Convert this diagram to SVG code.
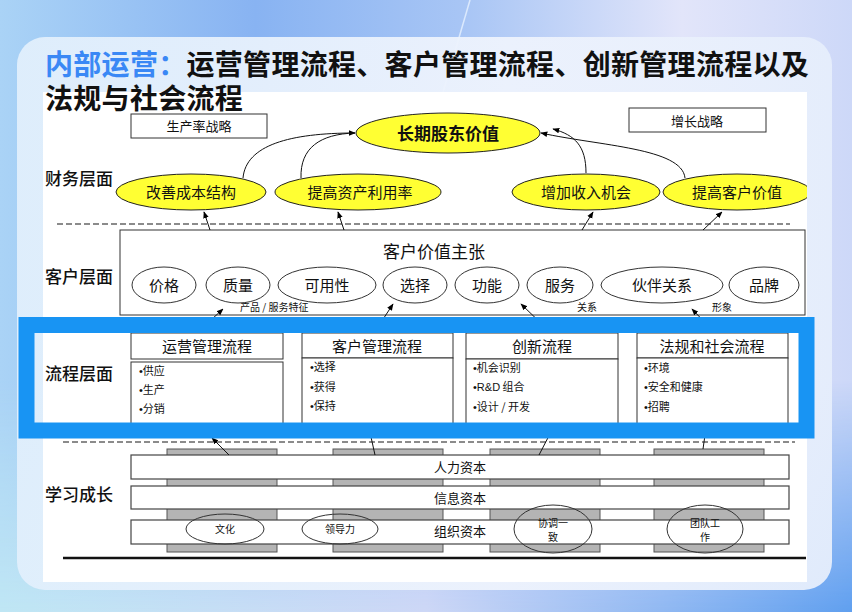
<svg xmlns="http://www.w3.org/2000/svg" width="852" height="612" viewBox="0 0 852 612">
<defs>
<linearGradient id="bg" x1="0" y1="0" x2="1" y2="0">
<stop offset="0" stop-color="#aad3f6"/>
<stop offset="0.3" stop-color="#88b3f2"/>
<stop offset="0.55" stop-color="#a9c6f5"/>
<stop offset="0.8" stop-color="#e2e5fa"/>
<stop offset="1" stop-color="#cdd8f8"/>
</linearGradient>
<linearGradient id="bgb" x1="0" y1="0" x2="1" y2="0">
<stop offset="0" stop-color="#bfe6f4"/>
<stop offset="0.5" stop-color="#cdd7f6"/>
<stop offset="1" stop-color="#5f9fef"/>
</linearGradient>
<linearGradient id="fade" x1="0" y1="0" x2="0" y2="1">
<stop offset="0" stop-color="#fff" stop-opacity="0"/>
<stop offset="1" stop-color="#fff" stop-opacity="1"/>
</linearGradient>
<mask id="bm"><rect x="0" y="380" width="852" height="232" fill="url(#fade)"/></mask>
<linearGradient id="card" x1="0" y1="0" x2="1" y2="0">
<stop offset="0" stop-color="#e1effc"/>
<stop offset="0.6" stop-color="#eef3fd"/>
<stop offset="1" stop-color="#e6eefc"/>
</linearGradient>
<marker id="ah" viewBox="0 0 10 10" refX="9" refY="5" markerWidth="7" markerHeight="7" orient="auto" markerUnits="userSpaceOnUse">
<path d="M0,1 L10,5 L0,9 z" fill="#000"/>
</marker>
<clipPath id="img"><rect x="43" y="92" width="764" height="490"/></clipPath>
</defs>
<style>
.t{font-family:"Noto Sans CJK SC","Noto Sans",sans-serif;fill:#111}
.lay{font-size:17px;font-weight:500}
.ttl{font-family:"Liberation Sans","Noto Sans CJK SC",sans-serif;font-size:28px;font-weight:700;letter-spacing:0.3px;fill:#111}
.box{fill:#fff;stroke:#333;stroke-width:1}
.yel{fill:#ffff33;stroke:#222;stroke-width:1}
.ov{fill:#fff;stroke:#333;stroke-width:1}
.ovn{fill:none;stroke:#333;stroke-width:1}
.pil{fill:#b4b4b4;stroke:#555;stroke-width:1}
.bar{fill:#fff;stroke:#444;stroke-width:1.2}
.dash{stroke:#666;stroke-width:1.5;stroke-dasharray:6 3;fill:none}
.c{stroke:#111;stroke-width:1;fill:none}
.b{font-family:"Liberation Sans",sans-serif}
.m15{font-size:15px}
.m13{font-size:13px}
.m11{font-size:11px}
.m10{font-size:10px}
.mid{text-anchor:middle}
</style>
<!-- background -->
<rect x="0" y="0" width="852" height="612" fill="url(#bg)"/>
<rect x="0" y="0" width="852" height="612" fill="url(#bgb)" mask="url(#bm)"/>
<path d="M470,0 L432,130" stroke="#e8f2ff" stroke-width="1.5" opacity="0.8"/>
<rect x="17" y="37" width="815" height="553" rx="28" fill="url(#card)" opacity="0.95"/>
<rect x="43" y="92" width="764" height="490" fill="#fff"/>

<!-- title -->
<text class="ttl" x="45" y="75"><tspan fill="#3a88f5">内部运营：</tspan>运营管理流程、客户管理流程、创新管理流程以及</text>
<text class="ttl" x="45" y="108.5">法规与社会流程</text>

<!-- layer labels -->
<text class="t lay" x="45" y="185">财务层面</text>
<text class="t lay" x="45" y="283">客户层面</text>
<text class="t lay" x="45" y="380">流程层面</text>
<text class="t lay" x="45" y="501">学习成长</text>

<g clip-path="url(#img)">
<!-- financial -->
<g id="productivity">
<rect class="box" x="131" y="114" width="136" height="24"/>
<text class="t m13 mid" x="199" y="131">生产率战略</text>
</g>
<g id="growth">
<rect class="box" x="629" y="108" width="137" height="24"/>
<text class="t m13 mid" x="697" y="126">增长战略</text>
</g>
<g id="shareholder">
<ellipse class="yel" cx="448" cy="133" rx="92" ry="20"/>
<text class="t mid" x="448" y="139.5" style="font-size:17px;font-weight:700">长期股东价值</text>
</g>
<g id="cost">
<ellipse class="yel" cx="191" cy="192" rx="75" ry="18"/>
<text class="t m15 mid" x="191" y="197.5">改善成本结构</text>
</g>
<g id="asset">
<ellipse class="yel" cx="358" cy="192" rx="83" ry="18"/>
<text class="t m15 mid" x="360" y="197.5">提高资产利用率</text>
</g>
<g id="revenue">
<ellipse class="yel" cx="586" cy="192" rx="74" ry="18"/>
<text class="t m15 mid" x="586" y="197.5">增加收入机会</text>
</g>
<g id="custvalue">
<ellipse class="yel" cx="737" cy="192" rx="74" ry="18"/>
<text class="t m15 mid" x="737" y="197.5">提高客户价值</text>
</g>
<line class="dash" x1="57" y1="224" x2="790" y2="224"/>

<!-- customer -->
<g id="proposition">
<rect class="box" x="120" y="230" width="685" height="85"/>
<text class="t mid" x="434" y="258" style="font-size:17px">客户价值主张</text>
<text class="t m10" x="240" y="311">产品 / 服务特征</text>
<text class="t m10" x="577" y="311">关系</text>
<text class="t m10" x="712" y="311">形象</text>
</g>
<g id="price"><ellipse class="ov" cx="164" cy="285" rx="32" ry="18"/><text class="t m15 mid" x="164" y="290.5">价格</text></g>
<g id="quality"><ellipse class="ov" cx="238" cy="285" rx="32" ry="18"/><text class="t m15 mid" x="238" y="290.5">质量</text></g>
<g id="availability"><ellipse class="ov" cx="327" cy="285" rx="49" ry="18"/><text class="t m15 mid" x="327" y="290.5">可用性</text></g>
<g id="selection"><ellipse class="ov" cx="415" cy="285" rx="32" ry="18"/><text class="t m15 mid" x="415" y="290.5">选择</text></g>
<g id="function"><ellipse class="ov" cx="487" cy="285" rx="32" ry="18"/><text class="t m15 mid" x="487" y="290.5">功能</text></g>
<g id="service"><ellipse class="ov" cx="560" cy="285" rx="33" ry="18"/><text class="t m15 mid" x="560" y="290.5">服务</text></g>
<g id="partnership"><ellipse class="ov" cx="662" cy="285" rx="61" ry="18"/><text class="t m15 mid" x="662" y="290.5">伙伴关系</text></g>
<g id="brand"><ellipse class="ov" cx="764" cy="285" rx="35" ry="18"/><text class="t m15 mid" x="764" y="290.5">品牌</text></g>

<!-- process -->
<g id="ops">
<rect class="box" x="131" y="333" width="152" height="26"/>
<text class="t m15 mid" x="207" y="352">运营管理流程</text>
<rect class="box" x="131" y="362" width="152" height="75"/>
<text class="t m11" x="139" y="375"><tspan class="b">•</tspan>供应</text>
<text class="t m11" x="139" y="394"><tspan class="b">•</tspan>生产</text>
<text class="t m11" x="139" y="413"><tspan class="b">•</tspan>分销</text>
</g>
<g id="crm">
<rect class="box" x="302" y="333" width="151" height="25"/>
<text class="t m15 mid" x="377" y="352">客户管理流程</text>
<rect class="box" x="302" y="358" width="151" height="79"/>
<text class="t m11" x="310" y="371"><tspan class="b">•</tspan>选择</text>
<text class="t m11" x="310" y="391"><tspan class="b">•</tspan>获得</text>
<text class="t m11" x="310" y="410"><tspan class="b">•</tspan>保持</text>
</g>
<g id="innovation">
<rect class="box" x="466" y="333" width="152" height="26"/>
<text class="t m15 mid" x="542" y="352">创新流程</text>
<rect class="box" x="466" y="359" width="152" height="78"/>
<text class="t m11" x="473" y="372"><tspan class="b">•</tspan>机会识别</text>
<text class="t m11" x="473" y="391"><tspan class="b">•R&amp;D</tspan> 组合</text>
<text class="t m11" x="473" y="411"><tspan class="b">•</tspan>设计 / 开发</text>
</g>
<g id="regulatory">
<rect class="box" x="637" y="333" width="151" height="25"/>
<text class="t m15 mid" x="712" y="352">法规和社会流程</text>
<rect class="box" x="637" y="358" width="151" height="79"/>
<text class="t m11" x="644" y="372"><tspan class="b">•</tspan>环境</text>
<text class="t m11" x="644" y="391"><tspan class="b">•</tspan>安全和健康</text>
<text class="t m11" x="644" y="411"><tspan class="b">•</tspan>招聘</text>
</g>
<line class="dash" x1="63" y1="442" x2="795" y2="442"/>

<!-- learning -->
<g id="pillars">
<rect class="pil" x="167" y="449" width="110" height="103"/>
<rect class="pil" x="333" y="449" width="110" height="103"/>
<rect class="pil" x="490" y="449" width="110" height="103"/>
<rect class="pil" x="654" y="449" width="110" height="103"/>
</g>
<g id="human"><rect class="bar" x="131" y="455" width="658" height="24"/><text class="t m13" x="434" y="472">人力资本</text></g>
<g id="info"><rect class="bar" x="131" y="486" width="658" height="23"/><text class="t m13" x="434" y="503">信息资本</text></g>
<g id="org"><rect class="bar" x="131" y="520" width="658" height="24"/><text class="t m13" x="434" y="536">组织资本</text></g>
<g id="culture"><ellipse class="ovn" cx="225" cy="529" rx="39" ry="15"/><text class="t m10 mid" x="225" y="533">文化</text></g>
<g id="leadership"><ellipse class="ovn" cx="340" cy="529" rx="38" ry="15"/><text class="t m10 mid" x="340" y="533">领导力</text></g>
<g id="alignment"><ellipse class="ovn" cx="553" cy="529" rx="39" ry="24"/><text class="t m10 mid" x="553" y="527">协调一</text><text class="t m10 mid" x="553" y="541">致</text></g>
<g id="teamwork"><ellipse class="ovn" cx="705" cy="529" rx="38" ry="24"/><text class="t m10 mid" x="705" y="527">团队工</text><text class="t m10 mid" x="705" y="541">作</text></g>
<line x1="63" y1="558" x2="806" y2="558" stroke="#111" stroke-width="2.5"/>

<!-- connectors -->
<g id="connectors">
<path class="c" d="M243,178 C246,145 290,133 355,133" marker-end="url(#ah)"/>
<path class="c" d="M301,178 C300,148 320,134 355,133"/>
<path class="c" d="M586,173 C586,146 575,135 553,129" marker-end="url(#ah)"/>
<path class="c" d="M685,178 C682,148 600,146 541,133" marker-end="url(#ah)"/>
<path class="c" d="M210,230 L204,212" marker-end="url(#ah)"/>
<path class="c" d="M344,230 L338,212" marker-end="url(#ah)"/>
<path class="c" d="M582,230 L593,212" marker-end="url(#ah)"/>
<path class="c" d="M703,230 L722,212" marker-end="url(#ah)"/>
<path class="c" d="M200,330 L223,309" marker-end="url(#ah)"/>
<path class="c" d="M376,330 L393,304" marker-end="url(#ah)"/>
<path class="c" d="M548,330 L521,304" marker-end="url(#ah)"/>
<path class="c" d="M712,330 L692,309" marker-end="url(#ah)"/>
<path class="c" d="M229,455 L212,438" marker-end="url(#ah)"/>
<path class="c" d="M375,455 L369,428" marker-end="url(#ah)"/>
<path class="c" d="M539,455 L553,428" marker-end="url(#ah)"/>
<path class="c" d="M703,449 L706,428" marker-end="url(#ah)"/>
</g>
</g>

<!-- highlight band -->
<rect x="26.5" y="325" width="780" height="105.5" fill="none" stroke="#1894f3" stroke-width="16"/>
</svg>
